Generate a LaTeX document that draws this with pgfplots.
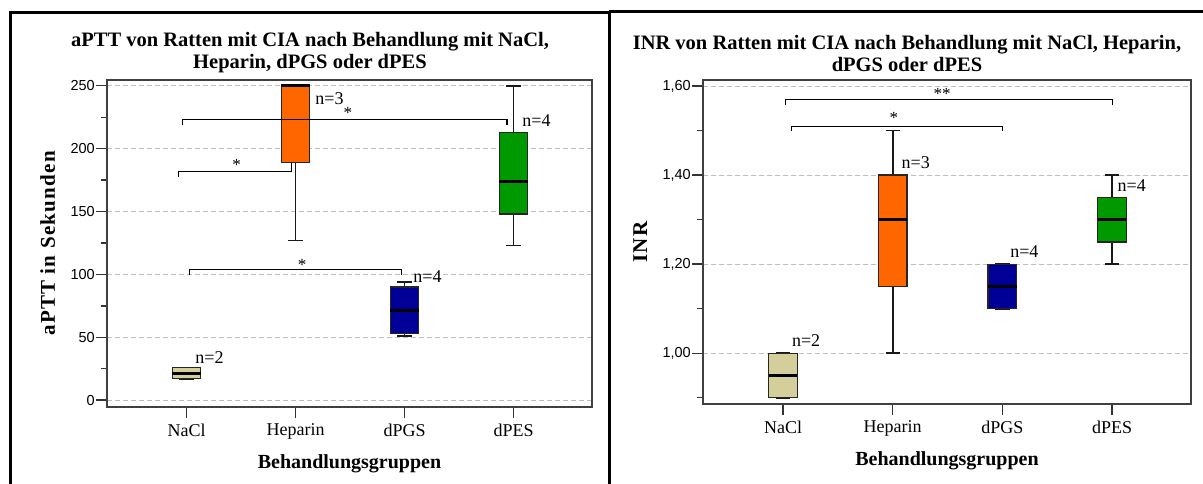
\documentclass[border=0pt]{standalone}
\usepackage{fontspec}
\setmainfont{Liberation Serif}
\newfontfamily\ticksans{Liberation Sans}
\usepackage{pgfplots}
\pgfplotsset{compat=1.18}
\usepgfplotslibrary{statistics}

\definecolor{khaki}{RGB}{211,206,154}
\definecolor{orng}{RGB}{255,102,0}
\definecolor{dblue}{RGB}{0,0,153}
\definecolor{dgreen}{RGB}{0,153,0}

\pgfplotsset{
  spssbox/.style={
    scale only axis,
    xmin=0.27, xmax=4.72,
    xtick={1,2,3,4},
    xticklabels={NaCl,Heparin,dPGS,dPES},
    tick pos=left,
    tick align=outside,
    major tick length=11pt,
    minor tick length=6pt,
    ymajorgrids,
    grid style={dash pattern=on 5pt off 3pt, black!25, line width=1pt},
    axis line style={draw=black!75, line width=1.6pt},
    every tick/.style={black!80, line width=1.4pt},
    xticklabel style={font=\fontsize{18}{18}\selectfont, yshift=-2pt},
    yticklabel style={font=\ticksans\fontsize{14.5}{14.5}\selectfont, inner sep=1pt},
    /pgf/number format/assume math mode=true,
    xlabel style={font=\bfseries\fontsize{20}{20}\selectfont},
    ylabel style={font=\bfseries\addfontfeature{LetterSpace=6}\fontsize{21}{21}\selectfont},
    xlabel shift=8pt,
    ylabel shift=11pt,
    boxplot/draw direction=y,
    boxplot/box extend=0.26,
    boxplot/whisker extend=0.13,
    boxplot/every median/.style={line width=3pt, black},
    boxplot/every whisker/.style={line width=1.8pt, black!90},
    xlabel={Behandlungsgruppen},
  },
  bx/.style={draw=black!85, line width=1.3pt, solid},
  br/.style={black, line width=1.1pt, mark=none},
}
\tikzset{
  nlab/.style={anchor=west, inner sep=0pt, font=\fontsize{18}{18}\selectfont},
  sigstar/.style={inner sep=0pt, font=\fontsize{17}{17}\selectfont},
}

\begin{document}
\begin{tikzpicture}
\useasboundingbox (0pt,0pt) rectangle (1203pt,-483pt);

% panel frames
\draw[line width=3pt] (10pt,-495pt) -- (10pt,-12pt) -- (609pt,-12pt) -- (609pt,-495pt);
\draw[line width=3pt] (609pt,-11pt) -- (1215pt,-11pt);

% panel titles
\node[align=center, font=\bfseries\fontsize{20.5}{22}\selectfont] at (310pt,-53pt)
  {aPTT von Ratten mit CIA nach Behandlung mit NaCl,\\Heparin, dPGS oder dPES};
\node[align=center, font=\bfseries\fontsize{20.5}{22}\selectfont] at (907pt,-53pt)
  {INR von Ratten mit CIA nach Behandlung mit NaCl, Heparin,\\dPGS oder dPES};

% ---------- aPTT ----------
\begin{axis}[spssbox,
  at={(107pt,-407pt)}, anchor=south west,
  width=485pt, height=327pt,
  ymin=-5.5, ymax=254.6,
  ytick={0,50,...,250},
  minor ytick={25,75,...,225},
  ylabel={aPTT in Sekunden},
]
\addplot[bx, fill=khaki, boxplot prepared={draw position=1,
  lower whisker=17, lower quartile=17, median=21, upper quartile=26, upper whisker=26}] coordinates {};
\addplot[bx, fill=orng, boxplot prepared={draw position=2,
  lower whisker=127, lower quartile=189, median=250, upper quartile=250, upper whisker=250}] coordinates {};
\addplot[bx, fill=dblue, boxplot prepared={draw position=3,
  lower whisker=51, lower quartile=53, median=71, upper quartile=90, upper whisker=94}] coordinates {};
\addplot[bx, fill=dgreen, boxplot prepared={draw position=4,
  lower whisker=123, lower quartile=148, median=174, upper quartile=213, upper whisker=250}] coordinates {};

% significance brackets
\addplot[br] coordinates {(0.96,218.6) (0.96,223) (3.94,223) (3.94,218.6)};
\addplot[br] coordinates {(0.93,177.6) (0.93,181.6) (1.96,181.6) (1.96,188.5)};
\addplot[br] coordinates {(1.03,99.5) (1.03,103.7) (2.97,103.7) (2.97,99.5)};
\node[sigstar] at (axis cs:2.48,228.5) {*};
\node[sigstar] at (axis cs:1.46,187) {*};
\node[sigstar] at (axis cs:2.06,107.5) {*};

\node[nlab] at (axis cs:1.08,34) {n=2};
\node[nlab] at (axis cs:2.18,240) {n=3};
\node[nlab] at (axis cs:3.08,98) {n=4};
\node[nlab] at (axis cs:4.08,222) {n=4};
\end{axis}

% ---------- INR ----------
\begin{axis}[spssbox,
  at={(703pt,-404pt)}, anchor=south west,
  width=488pt, height=324pt,
  ymin=0.886, ymax=1.6135,
  ytick={1,1.2,1.4,1.6},
  minor ytick={0.9,1.1,1.3,1.5},
  yticklabel style={/pgf/number format/.cd, fixed, fixed zerofill, precision=2, use comma},
  ylabel={INR},
]
\addplot[bx, fill=khaki, boxplot prepared={draw position=1,
  lower whisker=0.90, lower quartile=0.90, median=0.95, upper quartile=1.00, upper whisker=1.00}] coordinates {};
\addplot[bx, fill=orng, boxplot prepared={draw position=2,
  lower whisker=1.00, lower quartile=1.15, median=1.30, upper quartile=1.40, upper whisker=1.50}] coordinates {};
\addplot[bx, fill=dblue, boxplot prepared={draw position=3,
  lower whisker=1.10, lower quartile=1.10, median=1.15, upper quartile=1.20, upper whisker=1.20}] coordinates {};
\addplot[bx, fill=dgreen, boxplot prepared={draw position=4,
  lower whisker=1.20, lower quartile=1.25, median=1.30, upper quartile=1.35, upper whisker=1.40}] coordinates {};

\addplot[br] coordinates {(1.02,1.557) (1.02,1.570) (4.00,1.570) (4.00,1.557)};
\addplot[br] coordinates {(1.075,1.498) (1.075,1.510) (3.00,1.510) (3.00,1.498)};
\node[sigstar] at (axis cs:2.45,1.582) {**};
\node[sigstar] at (axis cs:2.01,1.528) {*};

\node[nlab] at (axis cs:1.08,1.028) {n=2};
\node[nlab] at (axis cs:2.08,1.428) {n=3};
\node[nlab] at (axis cs:3.07,1.228) {n=4};
\node[nlab] at (axis cs:4.05,1.376) {n=4};
\end{axis}
\end{tikzpicture}
\end{document}
